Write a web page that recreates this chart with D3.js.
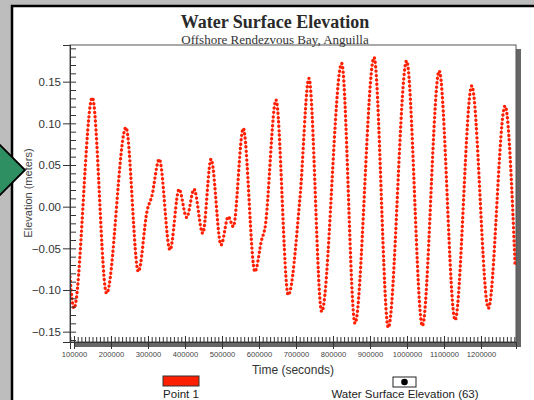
<!DOCTYPE html>
<html>
<head>
<meta charset="utf-8">
<script src="https://cdn.jsdelivr.net/npm/d3@7/dist/d3.min.js"></script>
<style>
  html, body { margin: 0; padding: 0; background: #bdbdbd; }
  svg { display: block; }
</style>
</head>
<body>
<script>
"use strict"

// chart texts
const chartTitle = "Water Surface Elevation";
const chartSubtitle = "Offshore Rendezvous Bay, Anguilla";
const xLabel = "Time (seconds)";
const yLabel = "Elevation (meters)";
const legendSeries = "Point 1";
const legendSymbol = "Water Surface Elevation (63)";

// series: time (s) and elevation (m) at turning points
const times = [
    89000, 100000, 149500, 188000, 240500, 274000, 298000, 310000, 330500, 359500,
    384000, 404500, 424500, 448000, 470500, 497500, 517000, 530500, 557500, 589000,
    607000, 616000, 646000, 679000, 711000, 735000, 769500, 823500, 859500, 911000,
    949500, 999000, 1041500, 1087000, 1130000, 1175000, 1220000, 1265000, 1292000
];
const elevations = [
    -0.084, -0.122, 0.131, -0.104, 0.095, -0.078, -0.004, 0.012, 0.057, -0.052,
    0.021, -0.013, 0.021, -0.032, 0.057, -0.046, -0.012, -0.024, 0.094, -0.078,
    -0.040, -0.026, 0.128, -0.106, 0.012, 0.154, -0.126, 0.172, -0.140, 0.179,
    -0.145, 0.175, -0.143, 0.163, -0.136, 0.145, -0.122, 0.121, -0.068
];

// axis ticks
const xMajorTicks = [100000, 200000, 300000, 400000, 500000, 600000, 700000, 800000, 900000, 1000000, 1100000, 1200000];
const yMajorTicks = [-0.15, -0.10, -0.05, 0.00, 0.05, 0.10, 0.15];

const width = 534;
const height = 400;
const plotLeft = 70;
const plotRight = 516;
const plotTop = 45;
const plotBottom = 342;

const svg = d3.select("body").append("svg")
    .attr("width", width)
    .attr("height", height);

// white panel with black border
svg.append("rect")
    .attr("x", 12).attr("y", 6)
    .attr("width", width).attr("height", height)
    .attr("fill", "#ffffff")
    .attr("stroke", "#000")
    .attr("stroke-width", 2.5);

// green navigation arrow on the left
svg.append("path")
    .attr("d", "M-4,141 L25,170 L-4,199 Z")
    .attr("fill", "#2e8f62")
    .attr("stroke", "#000")
    .attr("stroke-width", 1.8);

const x = d3.scaleLinear().domain([89200, 1294600]).range([plotLeft, plotRight]);
const y = d3.scaleLinear().domain([-0.1624, 0.194]).range([plotBottom, plotTop]);

// frame shadow and frame
svg.append("rect")
    .attr("x", plotLeft + 4).attr("y", plotTop + 4)
    .attr("width", plotRight - plotLeft + 1).attr("height", plotBottom - plotTop + 1)
    .attr("fill", "#666");
svg.append("rect")
    .attr("x", plotLeft).attr("y", plotTop)
    .attr("width", plotRight - plotLeft).attr("height", plotBottom - plotTop)
    .attr("fill", "#fff")
    .attr("stroke", "#555")
    .attr("stroke-width", 1);

svg.append("clipPath").attr("id", "plotClip")
    .append("rect")
    .attr("x", plotLeft).attr("y", plotTop)
    .attr("width", plotRight - plotLeft).attr("height", plotBottom - plotTop);

// data line
const series = times.map((t, i) => ({ t: t, v: elevations[i] }));
const line = d3.line()
    .x(d => x(d.t))
    .y(d => y(d.v))
    .curve(d3.curveMonotoneX);

const plot = svg.append("g").attr("clip-path", "url(#plotClip)");
plot.append("path")
    .datum(series)
    .attr("d", line)
    .attr("fill", "none")
    .attr("stroke", "#ff6a5a")
    .attr("stroke-opacity", 0.5)
    .attr("stroke-width", 1);
plot.append("path")
    .datum(series)
    .attr("d", line)
    .attr("fill", "none")
    .attr("stroke", "#ff1e00")
    .attr("stroke-width", 3.4)
    .attr("stroke-linecap", "round")
    .attr("stroke-dasharray", "0 4.4");

// axes
const tickFont = "Liberation Sans, Arial, sans-serif";

const yMinor = d3.range(-16, 20).map(i => i / 100);
svg.append("g")
    .attr("transform", `translate(${plotLeft},0)`)
    .call(d3.axisLeft(y).tickValues(yMinor).tickSize(-6).tickFormat(""))
    .call(g => g.select(".domain").remove());
const yAxis = svg.append("g")
    .attr("transform", `translate(${plotLeft},0)`)
    .call(d3.axisLeft(y).tickValues(yMajorTicks).tickSize(7).tickPadding(2).tickFormat(d3.format(".2f")));
yAxis.select(".domain").attr("stroke", "#333");
yAxis.selectAll("text")
    .attr("font-family", tickFont)
    .attr("font-size", 11.5)
    .attr("fill", "#333");

const xMinor = d3.range(9, 130).map(i => i * 10000);
svg.append("g")
    .attr("transform", `translate(0,${plotBottom})`)
    .call(d3.axisBottom(x).tickValues(xMinor).tickSize(-5).tickFormat(""))
    .call(g => g.select(".domain").remove());
const xAxis = svg.append("g")
    .attr("transform", `translate(0,${plotBottom})`)
    .call(d3.axisBottom(x).tickValues(xMajorTicks).tickSize(7).tickPadding(3).tickFormat(d3.format("d")));
xAxis.select(".domain").attr("stroke", "#333");
xAxis.selectAll("line").attr("y1", -6);
xAxis.selectAll("text")
    .attr("font-family", tickFont)
    .attr("font-size", 7.6)
    .attr("fill", "#444");

svg.selectAll(".tick line").attr("stroke", "#333");

// titles
svg.append("text")
    .attr("x", 275).attr("y", 27.5)
    .attr("text-anchor", "middle")
    .attr("font-family", "Liberation Serif, Times New Roman, serif")
    .attr("font-weight", "bold")
    .attr("font-size", 18)
    .attr("fill", "#2a2a2a")
    .text(chartTitle);
svg.append("text")
    .attr("x", 275).attr("y", 43.5)
    .attr("text-anchor", "middle")
    .attr("font-family", "Liberation Serif, Times New Roman, serif")
    .attr("font-size", 13)
    .attr("fill", "#333")
    .text(chartSubtitle);

svg.append("text")
    .attr("x", 293).attr("y", 374)
    .attr("text-anchor", "middle")
    .attr("font-family", tickFont)
    .attr("font-size", 12)
    .attr("fill", "#333")
    .text(xLabel);
svg.append("text")
    .attr("transform", "translate(32,193) rotate(-90)")
    .attr("text-anchor", "middle")
    .attr("font-family", tickFont)
    .attr("font-size", 11)
    .attr("fill", "#444")
    .text(yLabel);

// legend
svg.append("rect")
    .attr("x", 163).attr("y", 376)
    .attr("width", 36).attr("height", 10)
    .attr("fill", "#ff1e00")
    .attr("stroke", "#333")
    .attr("stroke-width", 1);
svg.append("text")
    .attr("x", 181).attr("y", 398)
    .attr("text-anchor", "middle")
    .attr("font-family", tickFont)
    .attr("font-size", 11.5)
    .attr("fill", "#222")
    .text(legendSeries);
svg.append("rect")
    .attr("x", 393).attr("y", 377)
    .attr("width", 23).attr("height", 10)
    .attr("fill", "#fff")
    .attr("stroke", "#222")
    .attr("stroke-width", 1);
svg.append("circle")
    .attr("cx", 404.5).attr("cy", 382)
    .attr("r", 3.3)
    .attr("fill", "#000");
svg.append("text")
    .attr("x", 405).attr("y", 398)
    .attr("text-anchor", "middle")
    .attr("font-family", tickFont)
    .attr("font-size", 11.5)
    .attr("fill", "#222")
    .text(legendSymbol);
</script>
</body>
</html>
